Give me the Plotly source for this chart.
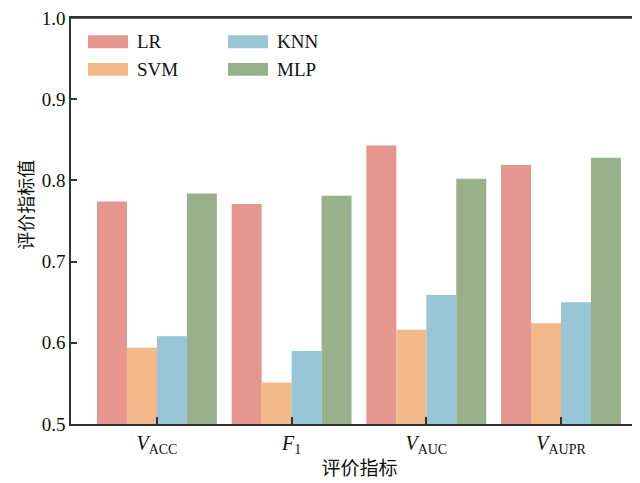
import plotly.graph_objects as go

categories = ["ACC", "F1", "AUC", "AUPR"]
tick_labels = ["<i>V</i><sub>ACC</sub>", "<i>F</i><sub>1</sub>",
               "<i>V</i><sub>AUC</sub>", "<i>V</i><sub>AUPR</sub>"]
series_names = ["LR", "SVM", "KNN", "MLP"]
lr_values = [0.774, 0.771, 0.843, 0.819]
svm_values = [0.594, 0.551, 0.616, 0.624]
knn_values = [0.608, 0.590, 0.659, 0.650]
mlp_values = [0.784, 0.781, 0.802, 0.828]
colors = ["#E4968F", "#F3B98B", "#98C6D6", "#98B18B"]

serif = "Liberation Serif"
cjk = "Noto Sans CJK SC"

fig = go.Figure()
for name, vals, col in zip(series_names, [lr_values, svm_values, knn_values, mlp_values], colors):
    fig.add_trace(go.Bar(x=categories, y=vals, name=name, marker_color=col,
                         marker_line_width=0, showlegend=False))

OFF = 8  # default page body margin
W, H = 640, 483
L, R, T, B = 63, 0, 5, 67
pw, ph = W - L - R, H - T - B

def px(x):
    return (x - OFF - L) / pw

def py(y):
    return (H - B - (y - OFF)) / ph

# manual legend (2 x 2, column-major order like the reference)
legend_pos = [(88, 37), (88, 65), (228, 37), (228, 65)]
for (lx, ly), name, col in zip(legend_pos, series_names, colors):
    fig.add_shape(type="rect", xref="paper", yref="paper",
                  x0=px(lx), x1=px(lx + 40), y0=py(ly + 6.5), y1=py(ly - 6.5),
                  fillcolor=col, line_width=0)
    fig.add_annotation(xref="paper", yref="paper", x=px(lx + 47), y=py(ly),
                       text=name, showarrow=False, xanchor="left", yanchor="middle",
                       font=dict(family=serif, size=19, color="#111"))

fig.add_annotation(xref="paper", yref="paper", x=px(25), y=py(202),
                   text="评价指标值", textangle=-90, showarrow=False,
                   xanchor="center", yanchor="middle",
                   font=dict(family=cjk, size=18, color="#111"))

# top frame line
fig.add_shape(type="line", xref="paper", yref="paper", x0=0, x1=1, y0=1, y1=1,
              line=dict(color="#333", width=1.5), layer="above")

fig.update_layout(
    width=W, height=H,
    margin=dict(l=L, r=R, t=T, b=B),
    paper_bgcolor="white", plot_bgcolor="white",
    barmode="group", bargap=0.11, bargroupgap=0,
    xaxis=dict(
        type="category", range=[-0.638, 3.646],
        tickmode="array", tickvals=categories, ticktext=tick_labels,
        ticks="inside", ticklen=7, tickwidth=1.5, tickcolor="#333",
        showline=True, linecolor="#333", linewidth=1.5, mirror=True,
        showgrid=False, zeroline=False,
        tickfont=dict(family=serif, size=20, color="#111"),
        title=dict(text="评价指标", font=dict(family=cjk, size=19, color="#111"), standoff=6),
    ),
    yaxis=dict(
        range=[0.5, 1.0], tickvals=[0.5, 0.6, 0.7, 0.8, 0.9, 1.0],
        ticktext=["0.5", "0.6", "0.7", "0.8", "0.9", "1.0"],
        ticks="inside", ticklen=6, tickwidth=1.5, tickcolor="#333",
        showline=True, linecolor="#333", linewidth=1.5,
        showgrid=False, zeroline=False, ticklabeloverflow="allow",
        tickfont=dict(family=serif, size=19, color="#111"),
    ),
)

fig.write_html("out.html")
